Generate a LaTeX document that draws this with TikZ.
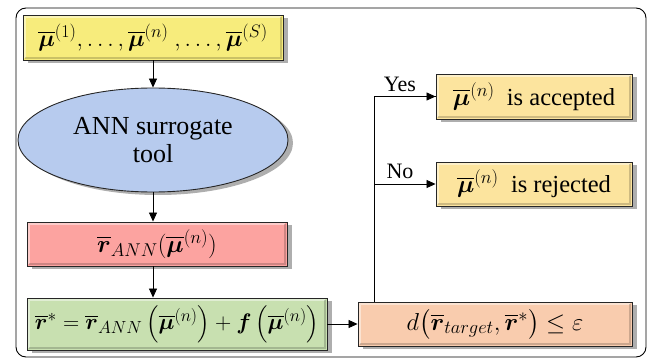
\RequirePackage{fix-cm}
\documentclass[tikz,border=0pt]{standalone}
\usepackage{amsmath,bm}
\usepackage{fontspec}
\setmainfont{Liberation Serif}
\DeclareMathSizes{24.5}{24.5}{18.5}{14}
\DeclareMathSizes{23.5}{23.5}{18}{13.5}
\DeclareMathSizes{22.5}{22.5}{17.5}{13}
\usetikzlibrary{shapes.geometric,shadows,arrows.meta}
\definecolor{cyel}{HTML}{F7EC7C}
\definecolor{cblue}{HTML}{B7CBEE}
\definecolor{cred}{HTML}{FCA3A0}
\definecolor{cgreen}{HTML}{C8E0B0}
\definecolor{corange}{HTML}{F9CCAE}
\definecolor{cgold}{HTML}{FCE49E}
\tikzset{
  box/.style={draw=black!85, line width=0.9pt, rectangle, align=center,
    font=\fontsize{24.5}{28}\selectfont,
    drop shadow={shadow xshift=5pt, shadow yshift=-3pt, fill=black!45, opacity=0.7}},
  bevel/.style={path picture={
    \draw[white, opacity=0.45, line width=2.5pt]
      ([shift={(2pt,2pt)}]path picture bounding box.south west) |- ([shift={(-2pt,-2pt)}]path picture bounding box.north east);
    \draw[black, opacity=0.18, line width=2.5pt]
      ([shift={(2pt,2pt)}]path picture bounding box.south west) -| ([shift={(-2pt,-2pt)}]path picture bounding box.north east);}},
  arr/.style={-{Triangle[length=9pt,width=8pt]}, line width=0.8pt},
  ln/.style={line width=0.8pt},
  lbl/.style={font=\fontsize{22}{24}\selectfont}
}
\begin{document}
\begin{tikzpicture}[x=1pt,y=1pt]
\useasboundingbox (0,0) rectangle (654,-361);
\draw[line width=0.9pt, rounded corners=10pt] (16,-8) rectangle (646,-357);
\node[box, bevel, fill=cyel, minimum width=260pt, minimum height=45pt, inner sep=1pt,
  font=\fontsize{23.5}{26}\selectfont] (top) at (153,-37.5)
  {$\overline{\bm\mu}^{(1)},\ldots,\overline{\bm\mu}^{(n)}\ ,\ldots,\overline{\bm\mu}^{(S)}$};
\node[box, ellipse, fill=cblue, minimum width=270pt, minimum height=104pt, inner sep=0pt,
  font=\fontsize{26}{29}\selectfont] (ann) at (153,-140)
  {ANN surrogate\\[-1pt]tool};
\node[box, bevel, fill=cred, minimum width=260pt, minimum height=44pt] (rann) at (157,-244)
  {$\overline{\bm r}_{ANN}(\overline{\bm\mu}^{(n)})$};
\node[box, bevel, fill=cgreen, minimum width=300pt, minimum height=52pt, inner sep=1pt,
  font=\fontsize{22.5}{26}\selectfont] (rstar) at (177,-324)
  {$\overline{\bm r}^{*}=\overline{\bm r}_{ANN}\left(\overline{\bm\mu}^{(n)}\right)+\bm f\left(\overline{\bm\mu}^{(n)}\right)$};
\node[box, bevel, fill=corange, minimum width=274pt, minimum height=44pt] (dist) at (495,-324)
  {$d\big(\overline{\bm r}_{target},\overline{\bm r}^{*}\big)\le\varepsilon$};
\node[box, bevel, fill=cgold, minimum width=196pt, minimum height=45pt, inner sep=1pt] (acc) at (534,-96.5)
  {$\overline{\bm\mu}^{(n)}$\ \ is accepted};
\node[box, bevel, fill=cgold, minimum width=196pt, minimum height=44pt, inner sep=1pt] (rej) at (534,-184)
  {$\overline{\bm\mu}^{(n)}$\ \ is rejected};
\coordinate (jn) at (374,-302);
\draw[arr] (top.south) -- (ann.north);
\draw[arr] (ann.south) -- (ann.south |- rann.north);
\draw[arr] (rann.south -| ann.south) -- (ann.south |- rstar.north);
\draw[arr] (rstar.east) -- (dist.west);
\draw[ln] (jn) |- (acc.west);
\draw[arr] (jn |- acc.west) -- (acc.west);
\draw[arr] (jn |- rej.west) -- (rej.west);
\node[lbl] (yes) at (400,-84) {Yes};
\node[lbl] (no) at (400,-171) {No};
\end{tikzpicture}
\end{document}
